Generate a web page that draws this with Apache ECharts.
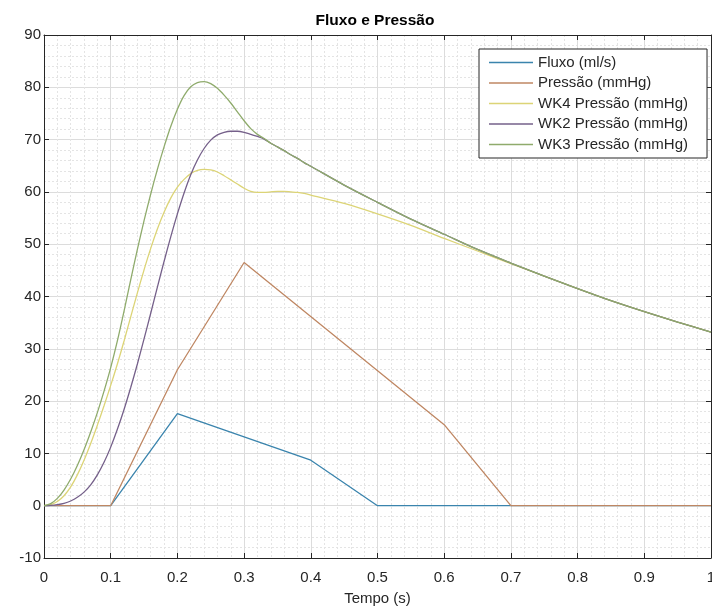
<!DOCTYPE html>
<html>
<head>
<meta charset="utf-8">
<script src="https://cdn.jsdelivr.net/npm/echarts@6/dist/echarts.min.js"></script>
<style>
  html, body { margin: 0; padding: 0; background: #fff; }
  #chart { width: 712px; height: 610px; }
</style>
</head>
<body>
<div id="chart"></div>
<script>
// Axis ticks
const xTicks = [0, 0.1, 0.2, 0.3, 0.4, 0.5, 0.6, 0.7, 0.8, 0.9, 1];
const yTicks = [-10, 0, 10, 20, 30, 40, 50, 60, 70, 80, 90];

// Flow (ml/s), piecewise linear
const fluxoT = [0, 0.1, 0.2, 0.4, 0.5, 1.0];
const fluxoV = [0, 0, 17.6, 8.7, 0, 0];

// Pressure (mmHg), piecewise linear
const pressaoT = [0, 0.1, 0.2, 0.3, 0.6, 0.7, 1.0];
const pressaoV = [0, 0, 26, 46.5, 15.5, 0, 0];

// Sample times shared by the Windkessel model curves
const wkT = [
  0, 0.01, 0.02, 0.03, 0.04, 0.05, 0.06, 0.07, 0.08, 0.09,
  0.10, 0.11, 0.12, 0.13, 0.14, 0.15, 0.16, 0.17, 0.18, 0.19,
  0.20, 0.21, 0.22, 0.23, 0.24, 0.25, 0.26, 0.27, 0.28, 0.29,
  0.30, 0.31, 0.32, 0.33, 0.34, 0.35, 0.36, 0.37, 0.38, 0.39,
  0.40, 0.45, 0.50, 0.55, 0.60, 0.65, 0.70, 0.75, 0.80, 0.85,
  0.90, 0.95, 1.00
];

const wk4V = [
  0, 0.2, 0.8, 1.9, 3.6, 5.9, 8.7, 11.9, 15.4, 19.1,
  23.0, 27.1, 31.5, 36.1, 40.7, 45.1, 49.2, 52.9, 56.1, 58.8,
  60.9, 62.4, 63.5, 64.1, 64.3, 64.2, 63.8, 63.1, 62.3, 61.5,
  60.7, 60.1, 59.9, 59.9, 60.0, 60.1, 60.1, 60.0, 59.9, 59.7,
  59.4, 57.8, 55.8, 53.6, 51.1, 48.7, 46.3, 43.9, 41.5, 39.2,
  37.1, 35.1, 33.2
];

const wk2V = [
  0, 0.05, 0.2, 0.45, 0.9, 1.6, 2.6, 4.0, 5.9, 8.3,
  11.2, 14.6, 18.4, 22.6, 27.1, 31.9, 36.8, 41.8, 46.7, 51.4,
  55.8, 59.8, 63.3, 66.1, 68.3, 69.9, 70.9, 71.4, 71.6, 71.6,
  71.4, 71.0, 70.6, 70.1, 69.3, 68.6, 67.9, 67.1, 66.4, 65.6,
  64.9, 61.3, 58.0, 54.8, 51.9, 49.0, 46.4, 43.9, 41.5, 39.2,
  37.1, 35.1, 33.2
];

const wk3V = [
  0, 0.4, 1.4, 3.0, 5.1, 7.7, 10.7, 14.1, 17.8, 21.9,
  26.4, 31.5, 37.2, 43.2, 49.0, 54.5, 59.6, 64.3, 68.6, 72.5,
  75.8, 78.4, 80.1, 80.9, 81.1, 80.7, 79.8, 78.5, 77.0, 75.3,
  73.6, 72.1, 71.0, 70.2, 69.3, 68.6, 67.9, 67.1, 66.4, 65.6,
  64.9, 61.3, 58.0, 54.8, 51.9, 49.0, 46.4, 43.9, 41.5, 39.2,
  37.1, 35.1, 33.2
];

const seriesNames = ['Fluxo (ml/s)', 'Pressão (mmHg)', 'WK4 Pressão (mmHg)', 'WK2 Pressão (mmHg)', 'WK3 Pressão (mmHg)'];
const seriesColors = ['#3a84ad', '#bf8763', '#dcd476', '#75608a', '#8fab6c'];

function pairs(t, v) { return t.map((x, i) => [x, v[i]]); }

const FONT = 'Liberation Sans, Arial, Helvetica, sans-serif';
const INK = '#262626';

const chart = echarts.init(document.getElementById('chart'), null, { renderer: 'canvas' });

const boxAxisLine = { show: true, onZero: false, lineStyle: { color: INK, width: 1 } };
const innerTick = { show: true, inside: true, length: 5, lineStyle: { color: INK } };
const majorGrid = { show: true, lineStyle: { color: '#dcdcdc', width: 1 } };
const minorGrid = { show: true, lineStyle: { color: '#e4e4e4', width: 1, type: [2, 2] } };

const mainX = {
  type: 'value', position: 'bottom', min: xTicks[0], max: xTicks[xTicks.length - 1], interval: 0.1,
  name: 'Tempo (s)', nameLocation: 'middle', nameGap: 33,
  nameTextStyle: { fontFamily: FONT, fontSize: 15, color: INK },
  axisLine: boxAxisLine, axisTick: innerTick,
  axisLabel: { fontFamily: FONT, fontSize: 15, color: INK, margin: 12, formatter: v => String(+v.toFixed(1)) },
  splitLine: majorGrid,
  minorTick: { show: false, splitNumber: 5 },
  minorSplitLine: minorGrid
};
const topX = {
  type: 'value', position: 'top', min: xTicks[0], max: xTicks[xTicks.length - 1], interval: 0.1,
  axisLine: boxAxisLine, axisTick: innerTick,
  axisLabel: { show: false }, splitLine: { show: false }
};
const mainY = {
  type: 'value', position: 'left', min: yTicks[0], max: yTicks[yTicks.length - 1], interval: 10,
  axisLine: boxAxisLine, axisTick: innerTick,
  axisLabel: { fontFamily: FONT, fontSize: 15, color: INK, margin: 3 },
  splitLine: majorGrid,
  minorTick: { show: false, splitNumber: 5 },
  minorSplitLine: minorGrid
};
const rightY = {
  type: 'value', position: 'right', min: yTicks[0], max: yTicks[yTicks.length - 1], interval: 10,
  axisLine: boxAxisLine, axisTick: innerTick,
  axisLabel: { show: false }, splitLine: { show: false }
};

const dataSets = [
  pairs(fluxoT, fluxoV),
  pairs(pressaoT, pressaoV),
  pairs(wkT, wk4V),
  pairs(wkT, wk2V),
  pairs(wkT, wk3V)
];

chart.setOption({
  animation: false,
  backgroundColor: '#ffffff',
  grid: { left: 44, right: 1, top: 35, bottom: 52, containLabel: false, outerBoundsMode: 'none' },
  graphic: [{
    type: 'text', x: 375, y: 21,
    style: {
      text: 'Fluxo e Pressão', fontFamily: FONT, fontSize: 15.5, fontWeight: 'bold', fill: '#000',
      align: 'center', verticalAlign: 'middle'
    }
  }],
  legend: {
    orient: 'vertical', left: 479, top: 49,
    padding: [6, 19, 6, 10],
    icon: 'rect', itemWidth: 44, itemHeight: 1.3, itemGap: 5.5,
    backgroundColor: '#ffffff', borderColor: INK, borderWidth: 1, borderRadius: 0,
    textStyle: { fontFamily: FONT, fontSize: 15, color: INK },
    data: seriesNames
  },
  xAxis: [mainX, topX],
  yAxis: [mainY, rightY],
  series: seriesNames.map((name, i) => ({
    name: name, type: 'line', xAxisIndex: 0, yAxisIndex: 0,
    data: dataSets[i], symbol: 'none', smooth: i >= 2 ? 0.3 : false,
    color: seriesColors[i],
    lineStyle: { color: seriesColors[i], width: 1.3 },
    z: 2 + i
  }))
});
</script>
</body>
</html>
